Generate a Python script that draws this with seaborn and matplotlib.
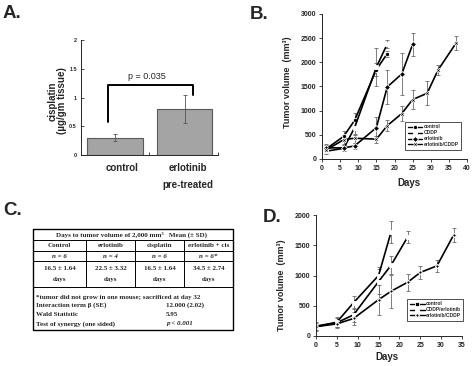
import pandas as pd
import matplotlib
matplotlib.use('Agg')
from matplotlib import pyplot as plt
from matplotlib.transforms import ScaledTranslation, blended_transform_factory
import seaborn as sns

sns.set_style('ticks')
plt.rcParams['font.family'] = ['Liberation Sans', 'DejaVu Sans']

# ---- data ----
# A: cisplatin in tumour tissue
groups = ['control', 'erlotinib']
cis_mean = [0.30, 0.80]
cis_sd = [0.06, 0.245]
p_label = 'p = 0.035'

# B: tumour growth, four arms
b_names = ['control', 'CDDP', 'erlotinib', 'erlotinib/CDDP']
b_days = [[1, 6, 9, 15, 18],
          [1, 6, 9, 15, 18],
          [1, 6, 9, 15, 18, 22, 25],
          [1, 6, 9, 15, 18, 22, 25, 29, 32, 37]]
b_vol = [[200, 470, 800, 1850, 2180],
         [160, 220, 650, 1900, 2380],
         [230, 230, 270, 650, 1490, 1760, 2370],
         [180, 400, 430, 410, 690, 940, 1230, 1360, 1840, 2400]]
b_sd = [[80, 100, 160, 130, 60],
        [60, 60, 150, 400, 80],
        [70, 50, 60, 220, 350, 440, 230],
        [60, 80, 90, 70, 120, 160, 200, 250, 110, 150]]

# D: sequence of treatment
d_names = ['control', 'CDDP/erlotinib', 'erlotinib/CDDP']
d_days = [[0, 5, 9, 15, 18],
          [0, 5, 9, 15, 18, 22],
          [0, 5, 9, 15, 18, 22, 25, 29, 33]]
d_vol = [[150, 230, 550, 1000, 1720],
         [165, 220, 350, 900, 1170, 1640],
         [155, 200, 290, 600, 740, 890, 1050, 1160, 1670]]
d_sd = [[60, 80, 110, 140, 180],
        [60, 70, 120, 200, 150, 100],
        [50, 60, 100, 250, 270, 140, 110, 100, 110]]

# C: table
c_header = 'Days to tumor volume of 2,000 mm³   Mean (± SD)'
c_groups = ['Control', 'erlotinib', 'cisplatin', 'erlotinib + cis']
c_n = ['n = 6', 'n = 4', 'n = 6', 'n = 6*']
c_days = ['16.5 ± 1.64', '22.5 ± 3.32', '16.5 ± 1.64', '34.5 ± 2.74']
c_notes = ['*tumor did not grow in one mouse; sacrificed at day 32',
           'Interaction term β (SE)', 'Wald Statistic',
           'Test of synergy (one sided)']
c_values = ['', '12.000 (2.02)', '5.95', 'p < 0.001']

W, H = 474, 366


def rect(x0, y0, x1, y1):
    return [x0 / W, 1 - y1 / H, (x1 - x0) / W, (y1 - y0) / H]


def bold_ticks(ax):
    for lab in ax.get_xticklabels() + ax.get_yticklabels():
        lab.set_fontweight('bold')


fig = plt.figure(figsize=(W / 100, H / 100), dpi=100)
fig.patch.set_facecolor('white')

# ---- A ----
axA = fig.add_axes(rect(81, 40, 218, 155))
sns.barplot(x=groups, y=cis_mean, color='#a4a4a4', edgecolor='#5a5a5a',
            linewidth=0.8, width=0.8, saturation=1, ax=axA)
axA.errorbar(range(len(groups)), cis_mean, yerr=cis_sd, fmt='none',
             ecolor='#555555', elinewidth=0.6, capsize=1.2, capthick=0.6)
axA.plot([-0.1, -0.1, 1.12, 1.12], [0.58, 1.22, 1.22, 1.05], color='k', lw=1.4)
axA.text(0.46, 1.29, p_label, ha='center', va='bottom', fontsize=6.5)
axA.set_xlim(-0.49, 1.48)
axA.set_ylim(0, 2)
axA.set_yticks([0, 0.5, 1, 1.5, 2])
axA.set_yticklabels(['0', '0.5', '1', '1.5', '2'])
axA.tick_params(axis='y', direction='in', length=2, width=0.6, labelsize=4, pad=3)
axA.tick_params(axis='x', length=0, labelsize=7, pad=6)
axA.set_xticks([0.49, 1.48], minor=True)
axA.tick_params(axis='x', which='minor', direction='in', length=2, width=0.6)
bold_ticks(axA)
for lab, dx in zip(axA.get_xticklabels(), [7, 3.5]):
    lab.set_transform(lab.get_transform() + ScaledTranslation(dx / 100, 0, fig.dpi_scale_trans))
trA = blended_transform_factory(axA.transData, axA.transAxes)
axA.text(1 + 3.5 / 69.5, -0.215, 'pre-treated', transform=trA, ha='center',
         va='top', fontsize=7, fontweight='bold')
axA.set_ylabel('cisplatin\n(µg/gm tissue)', fontsize=7, fontweight='bold', linespacing=1.0)
axA.yaxis.set_label_coords(-0.1, 0.47)
sns.despine(ax=axA)
for sp in axA.spines.values():
    sp.set_linewidth(0.7)


def growth_panel(ax, names, days, vols, sds, markers, xmax, ymax, ystep, legend_box):
    rows = []
    for name, dd, vv, ss in zip(names, days, vols, sds):
        for d, v, s in zip(dd, vv, ss):
            rows.append({'group': name, 'day': d, 'vol': v, 'sd': s})
    df = pd.DataFrame(rows)
    for name in names:
        sub = df[df.group == name]
        ax.errorbar(sub.day, sub.vol, yerr=sub.sd, fmt='none', ecolor='#6a6a6a',
                    elinewidth=0.6, capsize=1.2, capthick=0.6)
    sns.lineplot(data=df, x='day', y='vol', hue='group', style='group',
                 markers=markers, dashes=False, palette=['k'] * len(names),
                 hue_order=names, style_order=names, errorbar=None,
                 lw=1.2, markersize=3, markeredgewidth=0.6, ax=ax)
    for ln in ax.lines:
        if ln.get_marker() == 's' and ln.get_label() != names[0]:
            ln.set_markerfacecolor('white')
    ax.set_xlim(0, xmax)
    ax.set_ylim(0, ymax)
    ax.set_xticks(range(0, xmax + 1, 5))
    ax.set_yticks(range(0, ymax + 1, ystep))
    ax.tick_params(length=2, width=0.6, labelsize=5, pad=2)
    bold_ticks(ax)
    ax.set_xlabel('Days', fontsize=7, fontweight='bold')
    ax.set_ylabel('Tumor volume  (mm³)', fontsize=6.5, fontweight='bold')
    sns.despine(ax=ax)
    for sp in ax.spines.values():
        sp.set_linewidth(0.7)
    sns.move_legend(ax, 'lower left', bbox_to_anchor=legend_box, title=None,
                    prop={'size': 3.5, 'weight': 'bold'}, frameon=True,
                    fancybox=False, edgecolor='k', borderpad=0.5,
                    labelspacing=0.2, handlelength=3.0, handletextpad=0.3)
    leg = ax.get_legend()
    leg.get_frame().set_linewidth(0.6)
    for hd in leg.legend_handles:
        hd.set_linewidth(1.0)
        if hd.get_marker() == 's' and hd.get_label() != names[0]:
            hd.set_markerfacecolor('white')
    return ax


# ---- B ----
axB = fig.add_axes(rect(322, 14, 467, 159))
growth_panel(axB, b_names, b_days, b_vol, b_sd,
             {'control': 'o', 'CDDP': 's', 'erlotinib': 'D', 'erlotinib/CDDP': 'X'},
             40, 3000, 500, (0.559, 0.048))
axB.yaxis.set_label_coords(-0.207, 0.53)
axB.xaxis.set_label_coords(0.6, -0.13)

# ---- D ----
axD = fig.add_axes(rect(316, 215, 462, 336))
growth_panel(axD, d_names, d_days, d_vol, d_sd,
             {'control': 's', 'CDDP/erlotinib': 's', 'erlotinib/CDDP': 'P'},
             35, 2000, 500, (0.61, 0.107))
axD.yaxis.set_label_coords(-0.205, 0.42)
axD.xaxis.set_label_coords(0.486, -0.13)

# ---- C: table ----
x0, x1 = 33, 233
col_edges = [33, 86, 135, 184, 233]
row_edges = [229, 240, 251, 261, 287, 330]
axC = fig.add_axes(rect(x0, row_edges[0], x1, row_edges[-1]))
axC.set_xlim(x0, x1)
axC.set_ylim(row_edges[-1], row_edges[0])
axC.axis('off')
tfont = dict(family=['Liberation Serif', 'DejaVu Serif'], fontweight='bold', fontsize=5)
axC.plot([x0, x1, x1, x0, x0], [row_edges[0], row_edges[0], row_edges[-1], row_edges[-1], row_edges[0]],
         color='k', lw=1.0, clip_on=False)
for y in row_edges[1:-1]:
    axC.plot([x0, x1], [y, y], color='k', lw=0.7)
for x in col_edges[1:-1]:
    axC.plot([x, x], [row_edges[1], row_edges[4]], color='k', lw=0.7)
axC.text(131.5, 235, c_header, ha='center', va='center', **tfont)
for i in range(len(c_groups)):
    cx = (col_edges[i] + col_edges[i + 1]) / 2
    axC.text(cx, 245.5, c_groups[i], ha='center', va='center', **tfont)
    axC.text(cx, 256, c_n[i], ha='center', va='center', style='italic', **tfont)
    axC.text(cx, 269, c_days[i], ha='center', va='center', **tfont)
    axC.text(cx, 280, 'days', ha='center', va='center', **tfont)
for y, note, val in zip([297, 305.5, 314.5, 324], c_notes, c_values):
    axC.text(36, y, note, ha='left', va='center', **tfont)
    axC.text(166, y, val, ha='left', va='center',
             style='italic' if val.startswith('p') else 'normal', **tfont)

# ---- panel letters ----
for letter, px, py in [('A.', 3, 18), ('B.', 250, 19), ('C.', 3, 215), ('D.', 263, 222)]:
    fig.text(px / W, 1 - py / H, letter, fontsize=13.5, fontweight='bold', va='baseline')

fig.savefig('out.png', dpi=100, facecolor='white')
